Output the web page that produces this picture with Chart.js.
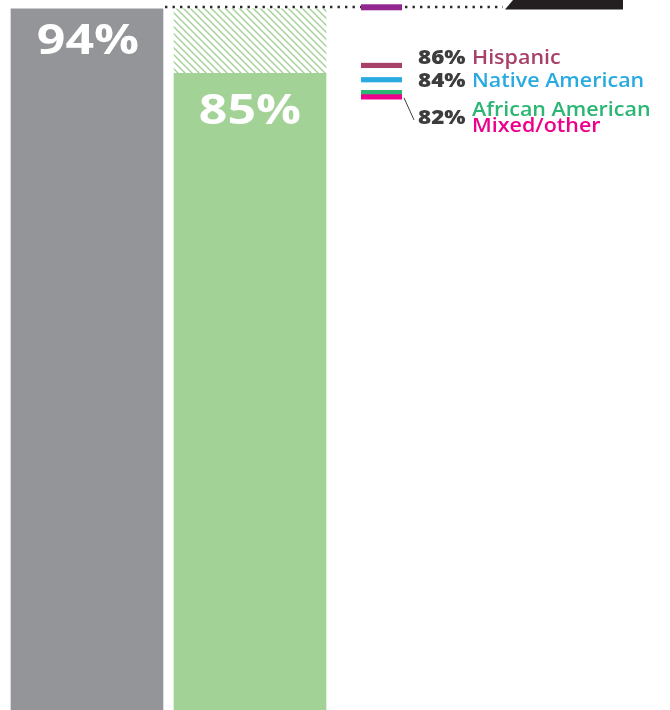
<!DOCTYPE html>
<html>
<head>
<meta charset="utf-8">
<script src="https://cdn.jsdelivr.net/npm/chart.js@4"></script>
<style>
  body { margin: 0; background: #fff; }
  canvas { display: block; }
</style>
</head>
<body>
<canvas id="rateChart" width="670" height="710"></canvas>
<script>
// Chart data
const categories = ['All students', 'Students of color', '', ''];
const rates = [94, 85];
const groupNames = ['Hispanic', 'Native American', 'African American', 'Mixed/other'];
const groupRates = [86.1, 84.1, 82.3, 81.7];
const topGroupRate = 94.3; // cropped group at the top, label not visible
const referenceRate = 94;

const colors = {
    gray: '#939598',
    green: '#a3d296',
    text: '#3d3d3d',
    groups: ['#a8416a', '#29aae1', '#2bb673', '#ec008c'],
    top: '#92278f'
};

// Diagonal hatch for the gap between the two bars
function makeHatch() {
    const c = document.createElement('canvas');
    c.width = 7;
    c.height = 7;
    const g = c.getContext('2d');
    g.strokeStyle = colors.green;
    g.lineWidth = 1.4;
    g.beginPath();
    g.moveTo(-1, -1); g.lineTo(8, 8);
    g.moveTo(-8, -1); g.lineTo(1, 8);
    g.moveTo(6, -1); g.lineTo(15, 8);
    g.stroke();
    return g.createPattern(c, 'repeat');
}

// Draw text stretched horizontally (the original font is wider)
function stretchText(ctx, txt, x, y, sx, align) {
    ctx.save();
    ctx.translate(x, y);
    ctx.scale(sx, 1);
    ctx.textAlign = align;
    ctx.fillText(txt, 0, 0);
    ctx.restore();
}

const annotations = {
    id: 'annotations',
    afterDatasetsDraw(chart) {
        const ctx = chart.ctx;
        const y = chart.scales.y;
        const bars = chart.getDatasetMeta(0).data;

        // values inside bars
        ctx.fillStyle = '#ffffff';
        ctx.font = 'bold 41px "Open Sans"';
        ctx.textBaseline = 'alphabetic';
        stretchText(ctx, rates[0] + '%', bars[0].x + 1, y.getPixelForValue(rates[0]) + 45.5, 1.22, 'center');
        stretchText(ctx, rates[1] + '%', bars[1].x, y.getPixelForValue(rates[1]) + 51, 1.22, 'center');

        // dotted reference line
        const refY = y.getPixelForValue(referenceRate) - 2;
        const lineStart = bars[0].x + bars[0].width / 2 + 2;
        ctx.save();
        ctx.strokeStyle = '#2a2a2a';
        ctx.lineWidth = 2.4;
        ctx.setLineDash([2.4, 5.1]);
        ctx.beginPath();
        ctx.moveTo(lineStart, refY);
        ctx.lineTo(503, refY);
        ctx.stroke();
        ctx.restore();

        // black callout, cropped at the top edge
        ctx.fillStyle = '#231f20';
        ctx.beginPath();
        ctx.moveTo(505, refY + 2.5);
        ctx.lineTo(513, 0);
        ctx.lineTo(623, 0);
        ctx.lineTo(623, refY + 2.5);
        ctx.closePath();
        ctx.fill();

        // group markers
        const mx = bars[1].x + bars[1].width / 2 + 35;
        const mw = 41;
        ctx.fillStyle = colors.top;
        ctx.fillRect(mx, y.getPixelForValue(topGroupRate) - 2.5, mw, 6);
        groupRates.forEach(function(v, i) {
            ctx.fillStyle = colors.groups[i];
            ctx.fillRect(mx, y.getPixelForValue(v) - 2.6, mw, 5.2);
        });

        // leader line
        ctx.strokeStyle = '#3d3d3d';
        ctx.lineWidth = 1;
        ctx.beginPath();
        ctx.moveTo(mx + mw + 2, y.getPixelForValue(groupRates[3]) + 1);
        ctx.lineTo(mx + mw + 12, y.getPixelForValue(groupRates[3]) + 23);
        ctx.stroke();

        // labels
        const numX = mx + 57;
        const nameX = mx + 111;
        const baselines = [
            y.getPixelForValue(groupRates[0]) - 1.5,
            y.getPixelForValue(groupRates[1]) + 7.5,
            y.getPixelForValue(groupRates[2]) + 23,
            y.getPixelForValue(groupRates[2]) + 39
        ];
        ctx.textBaseline = 'alphabetic';
        ctx.fillStyle = colors.text;
        ctx.font = '800 19px "Open Sans"';
        stretchText(ctx, Math.round(groupRates[0]) + '%', numX, baselines[0], 1.18, 'left');
        stretchText(ctx, Math.round(groupRates[1]) + '%', numX, baselines[1], 1.18, 'left');
        stretchText(ctx, Math.round(groupRates[2]) + '%', numX, (baselines[2] + baselines[3]) / 2 + 0.5, 1.18, 'left');
        ctx.font = '600 19px "Open Sans"';
        groupNames.forEach(function(name, i) {
            ctx.fillStyle = colors.groups[i];
            stretchText(ctx, name, nameX, baselines[i], 1.13, 'left');
        });
    }
};

const ctx = document.getElementById('rateChart').getContext('2d');
window.rateChart = new Chart(ctx, {
    type: 'bar',
    data: {
        labels: categories,
        datasets: [{
            label: 'Rate',
            data: rates,
            backgroundColor: [colors.gray, colors.green],
            base: -10,
            barThickness: 152,
            grouped: false
        }, {
            label: 'Gap',
            data: [null, [rates[1], rates[0]]],
            backgroundColor: makeHatch(),
            barThickness: 152,
            grouped: false
        }]
    },
    options: {
        responsive: false,
        animation: false,
        layout: {
            padding: { left: 5.5, right: 12.5, top: 0, bottom: 0 }
        },
        scales: {
            x: { display: false },
            y: { display: false, min: -4.05, max: 95.25 }
        },
        plugins: {
            legend: { display: false },
            tooltip: { enabled: false }
        }
    },
    plugins: [annotations]
});
</script>
</body>
</html>
